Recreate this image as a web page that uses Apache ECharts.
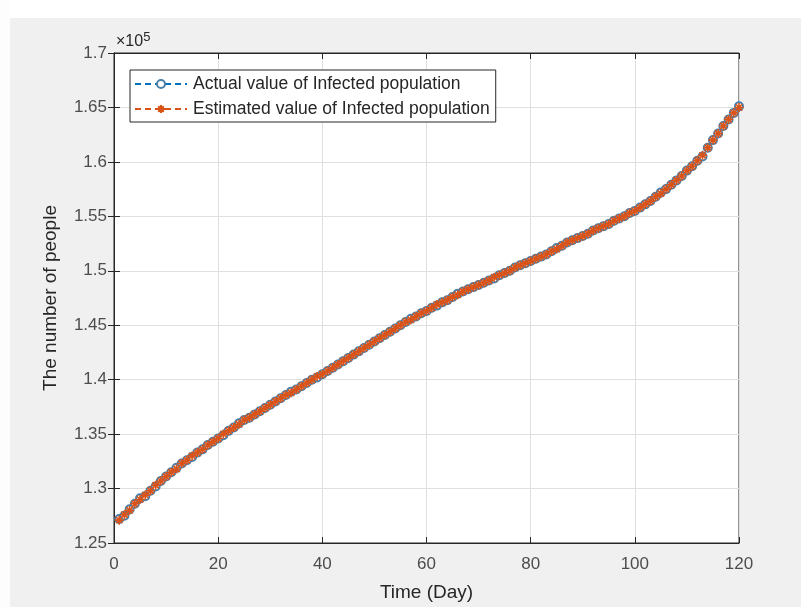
<!DOCTYPE html>
<html>
<head>
<meta charset="utf-8">
<script src="https://cdn.jsdelivr.net/npm/echarts@6/dist/echarts.min.js"></script>
<style>
  html, body { margin: 0; padding: 0; background: #f0f0f0; }
  #main { width: 801px; height: 607px; }
</style>
</head>
<body>
<div id="main"></div>
<script>
// 天数 1..120
const days = [];
for (let d = 1; d <= 120; d++) days.push(d);

// 实际感染人数
const actualValues = [
  127200, 127500, 128100, 128600, 129100, 129300, 129800, 130200, 130700, 131100,
  131500, 131900, 132300, 132600, 132900, 133300, 133600, 134000, 134300, 134600,
  134900, 135300, 135600, 136000, 136300, 136500, 136800, 137100, 137400, 137700,
  138000, 138300, 138600, 138900, 139100, 139400, 139700, 140000, 140200, 140500,
  140800, 141100, 141400, 141700, 142000, 142300, 142600, 142900, 143200, 143500,
  143800, 144100, 144400, 144700, 145000, 145300, 145600, 145800, 146100, 146300,
  146600, 146800, 147100, 147300, 147600, 147900, 148100, 148300, 148500, 148700,
  148900, 149100, 149300, 149600, 149800, 150000, 150300, 150500, 150700, 150900,
  151100, 151300, 151500, 151800, 152100, 152300, 152600, 152800, 153000, 153200,
  153400, 153700, 153900, 154100, 154300, 154600, 154800, 155000, 155300, 155500,
  155800, 156100, 156400, 156800, 157200, 157500, 157900, 158300, 158700, 159200,
  159600, 160100, 160500, 161300, 162000, 162600, 163300, 163900, 164500, 165100
];

// 估计感染人数
const estimatedValues = [
  127100, 127600, 128000, 128600, 129000, 129400, 129800, 130300, 130700, 131100,
  131500, 131800, 132300, 132600, 133000, 133300, 133600, 134000, 134300, 134600,
  135000, 135300, 135600, 135900, 136300, 136500, 136800, 137100, 137400, 137700,
  138000, 138300, 138600, 138800, 139100, 139400, 139700, 140000, 140300, 140500,
  140800, 141100, 141400, 141700, 142000, 142300, 142600, 142900, 143200, 143500,
  143800, 144100, 144400, 144700, 145000, 145300, 145500, 145800, 146100, 146300,
  146600, 146900, 147100, 147300, 147600, 147800, 148100, 148300, 148500, 148700,
  148900, 149100, 149400, 149600, 149800, 150000, 150300, 150500, 150700, 150900,
  151100, 151300, 151500, 151800, 152000, 152300, 152600, 152800, 153000, 153200,
  153400, 153700, 153900, 154100, 154300, 154600, 154800, 155000, 155300, 155500,
  155800, 156100, 156400, 156800, 157100, 157500, 157900, 158300, 158700, 159200,
  159600, 160100, 160600, 161300, 162000, 162600, 163300, 163900, 164500, 165000
];

const xTicks = [0, 20, 40, 60, 80, 100, 120];

const chart = echarts.init(document.getElementById('main'));
const font = 'Liberation Sans, Arial, sans-serif';
const textColor = '#262626';
const asterisk = 'path://M5,0L5,10M0,5L10,5M1.5,1.5L8.5,8.5M8.5,1.5L1.5,8.5';

const option = {
  backgroundColor: '#f0f0f0',
  animation: false,
  textStyle: { fontFamily: font },
  graphic: [
    { type: 'rect', left: 0, top: 0, shape: { width: 801, height: 18 }, style: { fill: '#fff' } },
    { type: 'rect', left: 0, top: 0, shape: { width: 10, height: 607 }, style: { fill: '#fdfdfd' } },
    {
      type: 'text', left: 116, top: 31,
      style: {
        text: '×10{sup|5}',
        fill: textColor,
        font: '16px ' + font,
        rich: { sup: { fontSize: 13, verticalAlign: 'top', padding: [0, 0, 8, 0], fill: textColor } }
      }
    }
  ],
  grid: {
    left: 114, right: 62, top: 53, bottom: 60,
    show: true, backgroundColor: '#fff', borderColor: textColor, borderWidth: 1
  },
  legend: {
    left: 130, top: 70,
    orient: 'vertical',
    itemWidth: 52, itemHeight: 10, itemGap: 7,
    padding: [5, 6, 4, 4],
    backgroundColor: '#fff',
    borderColor: textColor, borderWidth: 1, borderRadius: 0,
    textStyle: { fontSize: 17.5, color: textColor, fontFamily: font, padding: [0, 0, 0, 1] },
    data: ['Actual value of Infected population', 'Estimated value of Infected population']
  },
  xAxis: [
    {
      type: 'value', min: 0, max: 120, interval: 20,
      name: 'Time (Day)', nameLocation: 'middle', nameGap: 40,
      nameTextStyle: { fontSize: 19, color: textColor, fontFamily: font },
      axisLine: { show: true, lineStyle: { color: textColor } },
      axisTick: { inside: true, length: 6, lineStyle: { color: textColor } },
      axisLabel: { fontSize: 17, color: '#4d4d4d', margin: 13, fontFamily: font,
        formatter: v => xTicks.includes(v) ? String(v) : '' },
      splitLine: { show: true, lineStyle: { color: '#dfdfdf' } }
    },
    {
      type: 'value', min: 0, max: 120, interval: 20, position: 'top',
      axisLine: { show: true, lineStyle: { color: textColor } },
      axisTick: { inside: true, length: 6, lineStyle: { color: textColor } },
      axisLabel: { show: false }, splitLine: { show: false }
    }
  ],
  yAxis: [
    {
      type: 'value', min: 125000, max: 170000, interval: 5000,
      name: 'The number of people', nameLocation: 'middle', nameGap: 54,
      nameTextStyle: { fontSize: 19, color: textColor, fontFamily: font },
      axisLine: { show: true, lineStyle: { color: textColor } },
      axisTick: { inside: true, length: 6, lineStyle: { color: textColor } },
      axisLabel: { fontSize: 17, color: '#4d4d4d', margin: 7, fontFamily: font,
        formatter: v => String(parseFloat((v / 1e5).toFixed(2))) },
      splitLine: { show: true, lineStyle: { color: '#dfdfdf' } }
    },
    {
      type: 'value', min: 125000, max: 170000, interval: 5000, position: 'right',
      axisLine: { show: true, lineStyle: { color: textColor } },
      axisTick: { inside: true, length: 6, lineStyle: { color: textColor } },
      axisLabel: { show: false }, splitLine: { show: false }
    }
  ],
  series: [
    {
      name: 'Actual value of Infected population',
      type: 'line',
      data: days.map((d, i) => [d, actualValues[i]]),
      symbol: 'emptyCircle', symbolSize: 8,
      lineStyle: { color: '#0072BD', width: 1, type: [6, 4] },
      itemStyle: { color: '#4a7fa8', borderColor: '#4a7fa8', borderWidth: 1 }
    },
    {
      name: 'Estimated value of Infected population',
      type: 'line',
      data: days.map((d, i) => [d, estimatedValues[i]]),
      symbol: asterisk, symbolSize: 9,
      lineStyle: { color: '#D95319', width: 1, type: [6, 4] },
      itemStyle: { color: '#D95319', borderColor: '#D95319', borderWidth: 1.6 }
    }
  ]
};

chart.setOption(option);
</script>
</body>
</html>
